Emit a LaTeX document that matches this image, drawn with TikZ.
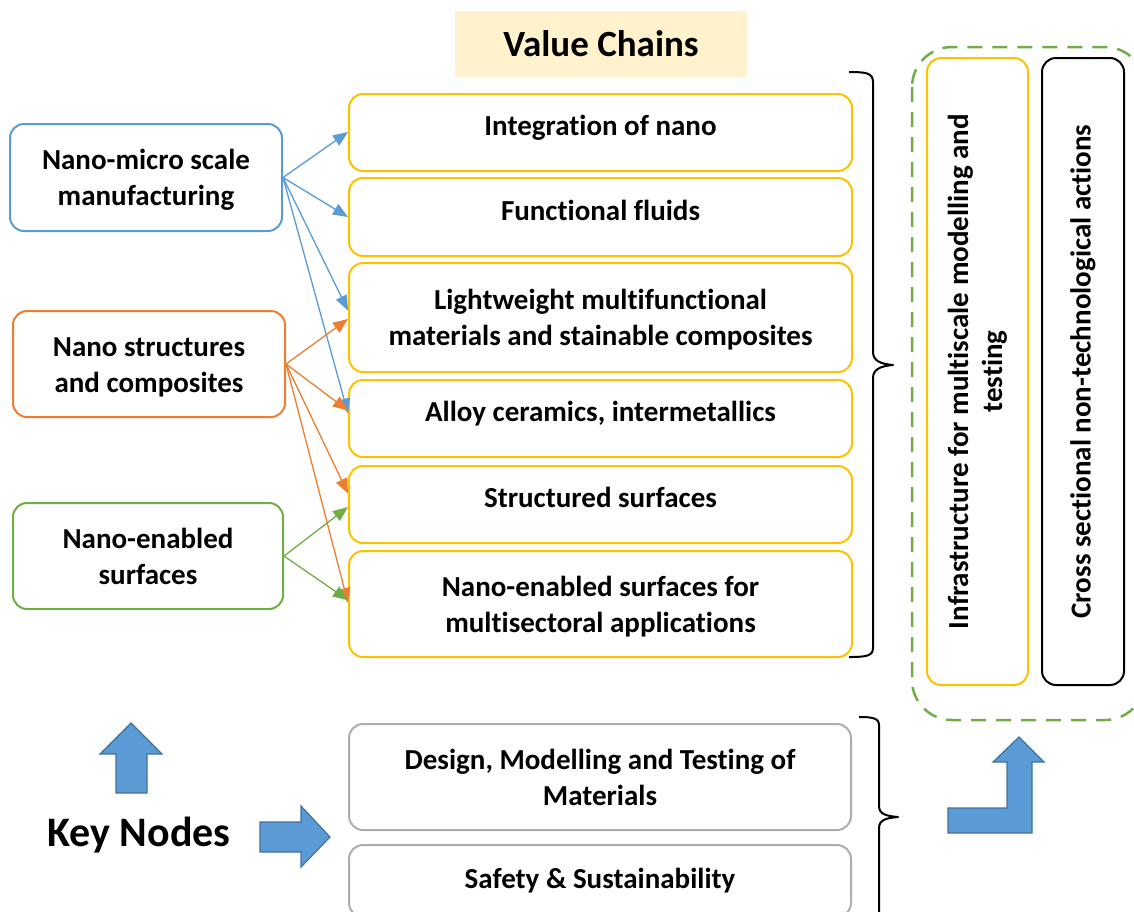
\documentclass[tikz,border=0pt]{standalone}
\usepackage{fontspec}
\setmainfont{Carlito}[Ligatures={NoCommon}]
\usetikzlibrary{arrows.meta,calc}
\definecolor{cblue}{HTML}{5B9BD5}
\definecolor{cblued}{HTML}{41719C}
\definecolor{corange}{HTML}{ED7D31}
\definecolor{cgreen}{HTML}{70AD47}
\definecolor{cyellow}{HTML}{FFC000}
\definecolor{cgray}{HTML}{ADADAD}
\definecolor{cfill}{HTML}{FFF2CC}
\newcommand{\twol}[2]{\rule{0pt}{27pt}#1\\#2\rule[-7pt]{0pt}{7pt}}
\begin{document}
\begin{tikzpicture}[x=1pt,y=-1pt,
  box/.style={draw, line width=2pt, rounded corners=14pt, align=center,
    font=\fontsize{29}{36}\selectfont\bfseries, inner sep=0pt, fill=white},
  oneline/.style={text height=20pt, text depth=14pt},
  vcbox/.style={box, draw=cyellow, minimum width=503pt},
  gbox/.style={box, draw=cgray, minimum width=502pt},
  conn/.style={line width=1.3pt, -{Triangle[length=15pt,width=12pt]}},
  blockarrow/.style={fill=cblue, draw=cblued, line width=1.2pt, line join=miter},
  brace/.style={line width=2pt, line join=round}
]
\useasboundingbox (0,0) rectangle (1134,911);

% title
\node[fill=cfill, minimum width=292pt, minimum height=66pt, inner sep=0pt,
  font=\fontsize{37}{40}\selectfont\bfseries] (title) at (601,44) {Value Chains};

% left key node boxes
\node[box, draw=cblue, minimum width=272pt, minimum height=107pt] (mfg) at (146,177.5) {\twol{Nano-micro scale}{manufacturing}};
\node[box, draw=corange, minimum width=272pt, minimum height=106pt] (str) at (149,364) {\twol{Nano structures}{and composites}};
\node[box, draw=cgreen, minimum width=270pt, minimum height=106pt] (surf) at (148,556) {\twol{Nano-enabled}{surfaces}};

% value chain boxes
\node[vcbox, oneline, minimum height=77pt] (v1) at (600.5,132.5) {Integration of nano};
\node[vcbox, oneline, minimum height=78pt] (v2) at (600.5,217) {Functional fluids};
\node[vcbox, minimum height=109pt] (v3) at (600.5,317.5) {\twol{Lightweight multifunctional}{materials and stainable composites}};
\node[vcbox, oneline, minimum height=77pt] (v4) at (600.5,418.5) {Alloy ceramics, intermetallics};
\node[vcbox, oneline, minimum height=77pt] (v5) at (600.5,504.5) {Structured surfaces};
\node[vcbox, minimum height=106pt] (v6) at (600.5,604) {\twol{Nano-enabled surfaces for}{multisectoral applications}};

% key node boxes bottom
\node[gbox, minimum height=106pt] (dmt) at (600,777) {\twol{Design, Modelling and Testing of}{Materials}};
\node[gbox, minimum height=72pt, text height=20pt, text depth=6pt] (ss) at (600,881) {Safety \& Sustainability};

% dashed green frame
\draw[cgreen, line width=2.5pt, dash pattern=on 15pt off 10pt, rounded corners=40pt] (912,47) rectangle (1145,720);

% vertical boxes
\node[box, draw=cyellow, rotate=90, minimum width=627pt, minimum height=101pt, font=\fontsize{29}{34}\selectfont\bfseries] (infra) at (977.5,371.5)
  {Infrastructure for multiscale modelling and\\testing};
\node[box, draw=black, rotate=90, minimum width=627pt, minimum height=82pt] (cross) at (1083,371.5)
  {Cross sectional non-technological actions};

% connectors
\draw[conn, cblue] (mfg.east) -- ([yshift=0.5pt]v1.west);
\draw[conn, cblue] (mfg.east) -- (v2.west);
\draw[conn, cblue] (mfg.east) -- ([yshift=7pt]v3.west);
\draw[conn, cblue] (mfg.east) -- ([yshift=5pt]v4.west);
\draw[conn, corange] (str.east) -- ([yshift=-1.5pt]v3.west);
\draw[conn, corange] (str.east) -- ([yshift=8pt]v4.west);
\draw[conn, corange] (str.east) -- ([yshift=11pt]v5.west);
\draw[conn, corange] (str.east) -- ([yshift=1pt]v6.west);
\draw[conn, cgreen] (surf.east) -- ([yshift=-2.5pt]v5.west);
\draw[conn, cgreen] (surf.east) -- ([yshift=4pt]v6.west);

% braces
\draw[brace] (849,72) .. controls (866,72) and (873,73) .. (873,82) -- (873,352)
  .. controls (873,361) and (881,364) .. (893,365)
  .. controls (881,366) and (873,369) .. (873,378) -- (873,648)
  .. controls (873,656) and (866,657) .. (849,657);
\draw[brace] (859,717) .. controls (872,717) and (879,718) .. (879,725) -- (879,806)
  .. controls (879,814) and (886,816) .. (898,817)
  .. controls (886,818) and (879,820) .. (879,828) -- (879,920);

% block arrows
\draw[blockarrow] (131,723) -- (162,754) -- (147,754) -- (147,793) -- (116,793) -- (116,754) -- (100,754) -- cycle;
\draw[blockarrow] (330,837) -- (301,867) -- (301,852) -- (260,852) -- (260,822) -- (301,822) -- (301,806) -- cycle;
\draw[blockarrow] (1019,737) -- (1044,762) -- (1032,762) -- (1032,833) -- (948,833) -- (948,808) -- (1007,808) -- (1007,762) -- (993,762) -- cycle;

% key nodes label
\node[font=\fontsize{42}{46}\selectfont\bfseries, inner sep=0pt] (keynodes) at (139,835) {Key Nodes};
\end{tikzpicture}
\end{document}
